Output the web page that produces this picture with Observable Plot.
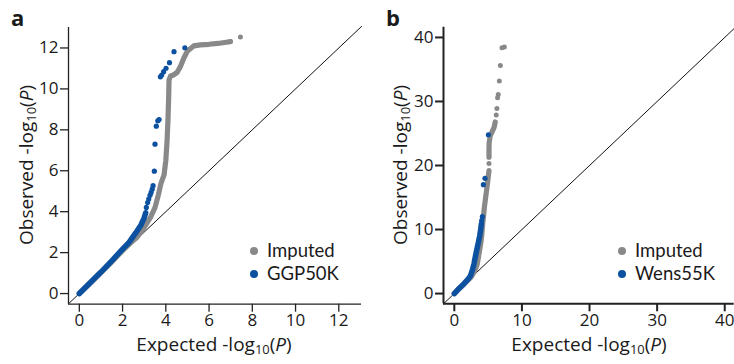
<!DOCTYPE html>
<html>
<head>
<meta charset="utf-8">
<script src="https://cdn.jsdelivr.net/npm/d3@7"></script>
<script src="https://cdn.jsdelivr.net/npm/@observablehq/plot@0.6"></script>
<style>
  body { margin: 0; background: #fff; font-family: "Open Sans", "Noto Sans", sans-serif; color: #1a1a1a; }
  #wrap { position: relative; width: 734px; height: 364px; overflow: hidden; }
  .panel { position: absolute; top: 0; }
  .tag { position: absolute; font-weight: bold; font-size: 22px; line-height: 1; }
  .xt, .yt { position: absolute; font-size: 19px; white-space: nowrap; line-height: 1; transform-origin: center; }
  .xt { transform: translate(-50%, -50%); }
  .yt { transform: translate(-50%, -50%) rotate(-90deg); }
  sub { font-size: 0.68em; vertical-align: -0.28em; line-height: 0; }
  .leg { position: absolute; font-family: Lato, "Open Sans", sans-serif; font-size: 18.5px; line-height: 22.5px; white-space: nowrap; }
  .leg span.d { display: inline-block; width: 8px; height: 8px; border-radius: 50%; margin-right: 9px; vertical-align: 2px; }
</style>
</head>
<body>
<div id="wrap"></div>
<script>
// ---------------- data ----------------
const colors = { imputed: "#898989", chip: "#0c50a0" };

// Panel a
const aTicks = [0, 2, 4, 6, 8, 10, 12];
const aLegend = ["Imputed", "GGP50K"];
const aImputedCurve = [
  [0, 0], [0.5, 0.5], [1.0, 1.02], [1.5, 1.55], [2.0, 2.1], [2.4, 2.5], [2.67, 2.75],
  [2.98, 3.2], [3.29, 3.72], [3.5, 4.2], [3.65, 4.8], [3.78, 5.4], [3.92, 5.8],
  [4.0, 6.5], [4.06, 7.5], [4.1, 8.5], [4.13, 9.5], [4.15, 10.45], [4.22, 10.63],
  [4.35, 10.68], [4.52, 10.8], [4.68, 11.1], [4.83, 11.5], [5.0, 11.85], [5.29, 12.1],
  [5.6, 12.15], [6.0, 12.18], [6.4, 12.22], [6.8, 12.28], [6.99, 12.31]
];
const aImputedDots = [[6.99, 12.31], [7.45, 12.53]];
const aChipCurve = [
  [0, 0], [0.5, 0.53], [1.0, 1.05], [1.5, 1.6], [2.0, 2.17], [2.3, 2.5], [2.6, 2.95],
  [2.85, 3.35], [3.0, 3.7], [3.07, 3.95]
];
const aChipDots = [
  [3.1, 4.21], [3.16, 4.45], [3.21, 4.62], [3.27, 4.8], [3.32, 4.94], [3.37, 5.1], [3.41, 5.27],
  [3.47, 5.98], [3.5, 7.3], [3.56, 8.18], [3.63, 8.44], [3.69, 8.5],
  [3.75, 10.59], [3.81, 10.68], [3.9, 10.84], [4.01, 11.01], [4.17, 11.28],
  [4.38, 11.82], [4.88, 12.01]
];

// Panel b
const bTicks = [0, 10, 20, 30, 40];
const bLegend = ["Imputed", "Wens55K"];
const bImputedCurve = [
  [0, 0], [0.7, 0.75], [1.4, 1.45], [2.0, 2.05], [2.5, 2.6], [2.9, 3.3], [3.2, 4.0],
  [3.4, 4.64], [3.65, 6.2], [3.9, 7.77], [4.05, 9.0], [4.15, 10.4], [4.3, 11.9],
  [4.45, 13.5], [4.64, 15.05], [4.89, 17.1], [5.05, 18.5], [5.13, 19.2]
];
const bImputedCurve2 = [
  [5.13, 21.3], [5.13, 22.5], [5.15, 23.5], [5.3, 24.6], [5.6, 25.3], [5.9, 26.0], [6.05, 26.8]
];
const bImputedDots = [
  [5.13, 20.3], [6.2, 27.9], [6.3, 28.9], [6.4, 30.6], [6.5, 31.1], [6.66, 33.2],
  [6.81, 35.6], [7.05, 38.4], [7.4, 38.5]
];
const bChipCurve = [
  [0, 0], [0.7, 0.8], [1.4, 1.5], [2.0, 2.2], [2.4, 2.8], [2.7, 3.8], [2.9, 4.6],
  [3.15, 6.0], [3.4, 7.2], [3.6, 8.2], [3.75, 9.0], [3.9, 10.0], [4.0, 10.9]
];
const bChipDots = [[4.05, 11.4], [4.15, 12.0], [4.3, 17.0], [4.54, 18.0], [5.04, 24.8]];

// ---------------- drawing ----------------
const wrap = document.getElementById("wrap");
const X = d => d[0], Y = d => d[1];

function panel(o) {
  const diag = [o.xDomain[0], o.xDomain[1]];
  const axisStyle = { stroke: "#222", strokeWidth: o.axisW };
  const lineOpts = { x: X, y: Y, stroke: colors.imputed, strokeWidth: 5.2, strokeLinecap: "round", strokeLinejoin: "round" };
  return Plot.plot({
    width: 367, height: 364,
    marginLeft: o.ml, marginRight: o.mr, marginTop: o.mt, marginBottom: o.mb,
    x: { domain: o.xDomain },
    y: { domain: o.yDomain },
    style: { fontFamily: '"Open Sans", "Noto Sans", sans-serif', fontSize: "17px", color: "#1a1a1a", background: "transparent", overflow: "visible" },
    marks: [
      Plot.line(diag, { x: d => d, y: d => d, stroke: "#111", strokeWidth: 1 }),
      Plot.line(o.grayCurve, lineOpts),
      ...(o.grayCurve2 ? [Plot.line(o.grayCurve2, lineOpts)] : []),
      Plot.dot(o.grayDots, { x: X, y: Y, r: 2.5, fill: colors.imputed }),
      Plot.line(o.blueCurve, { x: X, y: Y, stroke: colors.chip, strokeWidth: 5.5, strokeLinecap: "round", strokeLinejoin: "round" }),
      Plot.dot(o.blueDots, { x: X, y: Y, r: 2.6, fill: colors.chip }),
      Plot.axisX({ ticks: o.ticks, tickSize: 8, tickPadding: 2, label: null, stroke: "#222", strokeWidth: o.axisW, fill: "#1a1a1a" }),
      Plot.axisY({ ticks: o.ticks, tickSize: 8, tickPadding: 2, label: null, stroke: "#222", strokeWidth: o.axisW, fill: "#1a1a1a" }),
      Plot.ruleX([o.xDomain[0]], axisStyle),
      Plot.ruleY([o.yDomain[0]], axisStyle)
    ]
  });
}

function addPanel(left, o, tag, tagPos, xt, yt, legend, legPos) {
  const div = document.createElement("div");
  div.className = "panel";
  div.style.left = left + "px";
  div.appendChild(panel(o));
  wrap.appendChild(div);

  const t = document.createElement("div");
  t.className = "tag"; t.textContent = tag;
  t.style.left = tagPos[0] + "px"; t.style.top = tagPos[1] + "px";
  wrap.appendChild(t);

  const xl = document.createElement("div");
  xl.className = "xt";
  xl.innerHTML = "Expected -log<sub>10</sub>(<i>P</i>)";
  xl.style.left = xt[0] + "px"; xl.style.top = xt[1] + "px";
  wrap.appendChild(xl);

  const yl = document.createElement("div");
  yl.className = "yt";
  yl.innerHTML = "Observed -log<sub>10</sub>(<i>P</i>)";
  yl.style.left = yt[0] + "px"; yl.style.top = yt[1] + "px";
  wrap.appendChild(yl);

  const l = document.createElement("div");
  l.className = "leg";
  l.innerHTML = legend.map((name, i) =>
    `<span class="d" style="background:${i === 0 ? colors.imputed : colors.chip}"></span>${name}`).join("<br>");
  l.style.left = legPos[0] + "px";
  l.style.top = legPos[1] + "px";
  wrap.appendChild(l);
}

addPanel(0, {
  xDomain: [-0.5, 13.05], yDomain: [-0.52, 13.0], ticks: aTicks,
  ml: 68, mr: 6, mt: 27, mb: 60.3, axisW: 1.3,
  grayCurve: aImputedCurve, grayDots: aImputedDots, blueCurve: aChipCurve, blueDots: aChipDots
}, "a", [11, 6], [214, 344], [26, 165], aLegend, [250, 239]);

addPanel(367, {
  xDomain: [-1.6, 41.4], yDomain: [-1.6, 41.6], ticks: bTicks,
  ml: 76, mr: 0.3, mt: 26.7, mb: 60.7, axisW: 2,
  grayCurve: bImputedCurve, grayCurve2: bImputedCurve2, grayDots: bImputedDots, blueCurve: bChipCurve, blueDots: bChipDots
}, "b", [386, 6], [589, 344], [400, 165], bLegend, [618, 239]);
</script>
</body>
</html>
